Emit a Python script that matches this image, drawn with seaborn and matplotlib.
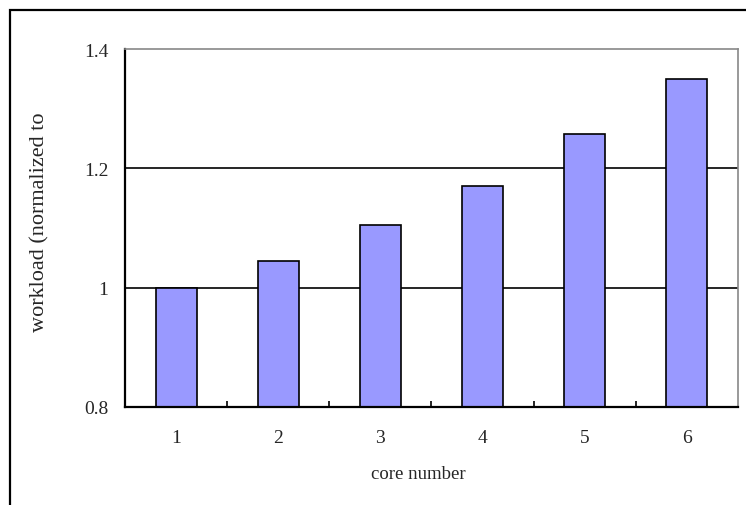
import matplotlib
matplotlib.use("Agg")
import matplotlib.pyplot as plt
import seaborn as sns
import pandas as pd
from matplotlib.patches import Rectangle

# data
cores = ["1", "2", "3", "4", "5", "6"]
workload = [1.0, 1.045, 1.105, 1.17, 1.257, 1.35]

df = pd.DataFrame({"core": cores, "workload": workload})

sns.set_style("white")
plt.rcParams["font.family"] = ["Liberation Serif", "DejaVu Serif"]

fig = plt.figure(figsize=(7.46, 5.06), dpi=100)
ax = fig.add_axes([125 / 746, 1 - 408 / 506, (738 - 125) / 746, (408 - 50) / 506])

# outer chart border like an Excel chart area
fig.patches.append(Rectangle((10 / 746, -0.1), 1.0, (506 - 11) / 506 + 0.1,
                             transform=fig.transFigure, fill=False,
                             edgecolor="black", linewidth=1.6, zorder=0))

# gridlines behind bars
for g in [1.0, 1.2]:
    ax.axhline(g, color="black", linewidth=1.2, zorder=0)

sns.barplot(data=df, x="core", y="workload", color="#9999FF", saturation=1,
            edgecolor="black", linewidth=1.2, width=0.4, ax=ax, zorder=2)

ax.set_ylim(0.8, 1.4)
ax.set_xlim(-0.5, 5.5)
ax.set_yticks([0.8, 1.0, 1.2, 1.4])
ax.set_yticklabels(["0.8", "1", "1.2", "1.4"])

# tick marks sit between the categories
ax.set_xticks([i - 0.5 for i in range(1, 6)], minor=True)
ax.tick_params(axis="x", which="minor", direction="in", length=4, width=1.2,
               color="black", bottom=True)
ax.tick_params(axis="x", which="major", length=0, pad=16, labelsize=14)
ax.tick_params(axis="y", length=0, pad=12, labelsize=14)

for side in ["left", "bottom"]:
    ax.spines[side].set_color("black")
    ax.spines[side].set_linewidth(1.6)
for side in ["top", "right"]:
    ax.spines[side].set_color("#888888")
    ax.spines[side].set_linewidth(1.2)

ax.set_xlabel("core number", fontsize=13.5)
ax.xaxis.set_label_coords(0.478, -0.162)
ax.set_ylabel("")
fig.text(40 / 746, 1 - 222 / 506, "workload (normalized to", rotation=90,
         ha="center", va="center", fontsize=16)

fig.savefig("out.png", dpi=100)
